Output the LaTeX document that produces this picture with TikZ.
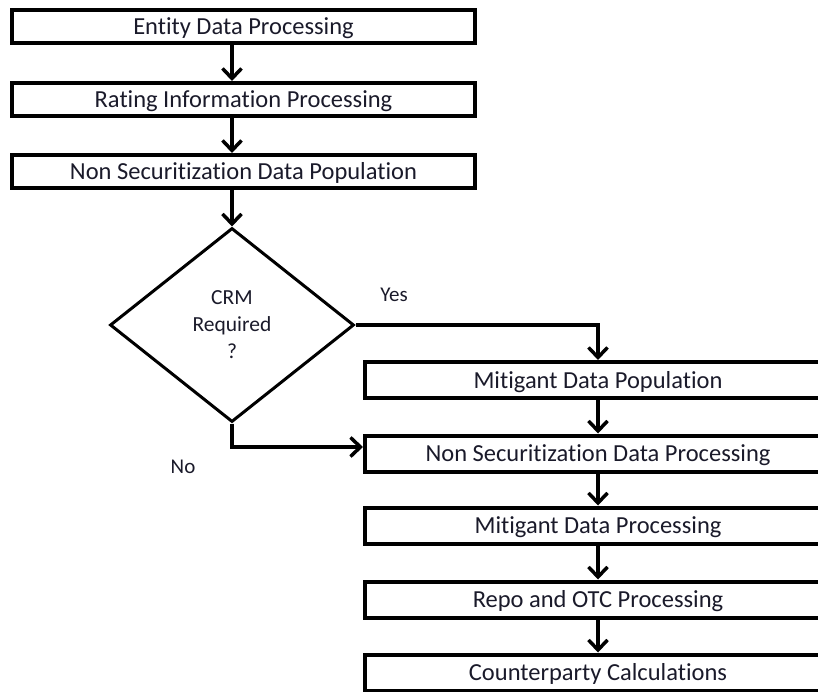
\documentclass[tikz,border=0pt]{standalone}
\usepackage{fontspec}
\setmainfont{Carlito}[RawFeature={-liga;-clig;-calt;-dlig}]
\usetikzlibrary{shapes.geometric,arrows.meta}
\definecolor{txt}{HTML}{1A1A2A}
\tikzset{
  box/.style={draw=black, line width=4pt, rectangle, inner sep=0pt, text=txt,
    font=\fontsize{24.5}{28}\selectfont, text height=18pt, text depth=2pt},
  topbox/.style={box, minimum width=463pt, minimum height=33pt},
  rbox/.style={box, minimum width=466pt, minimum height=36pt},
  dia/.style={draw=black, line width=3pt, diamond, inner sep=0pt,
    minimum width=244pt, minimum height=194pt, align=center, text=txt,
    font=\fontsize{21.5}{27}\selectfont},
  lbl/.style={text=txt, font=\fontsize{21}{24}\selectfont, inner sep=0pt},
  arr/.style={line width=3.5pt, -{Straight Barb[length=10pt,width=19pt,line width=3.5pt]}},
}
\begin{document}
\begin{tikzpicture}[x=1pt,y=-1pt]
\useasboundingbox (0,0) rectangle (818,692);
\clip (0,0) rectangle (818,692);
\node[topbox] (b1) at (243.5,26.5) {Entity Data Processing};
\node[topbox] (b2) at (243.5,99.5) {Rating Information Processing};
\node[topbox] (b3) at (243.5,171.5) {Non Securitization Data Population};
\node[dia] (d) at (232,325) {CRM\\Required\\?};
\node[rbox] (r1) at (598,380) {Mitigant Data Population};
\node[rbox] (r2) at (598,453.5) {Non Securitization Data Processing};
\node[rbox] (r3) at (598,525.5) {Mitigant Data Processing};
\node[rbox] (r4) at (598,599.5) {Repo and OTC Processing};
\node[rbox] (r5) at (598,672.5) {Counterparty Calculations};
\node[lbl] (yes) at (394,295) {Yes};
\node[lbl] (no) at (183,467) {No};
\coordinate (nb) at (232,447);
\draw[arr] (b1.south -| d.north) -- (b2.north -| d.north);
\draw[arr] (b2.south -| d.north) -- (b3.north -| d.north);
\draw[arr] (b3.south -| d.north) -- (d.north);
\draw[arr] (d.east) -- (d.east -| r1.north) -- (r1.north);
\draw[arr] (d.south) -- (nb) -- (nb -| r2.west);
\draw[arr] (r1) -- (r2);
\draw[arr] (r2) -- (r3);
\draw[arr] (r3) -- (r4);
\draw[arr] (r4) -- (r5);
\end{tikzpicture}
\end{document}
